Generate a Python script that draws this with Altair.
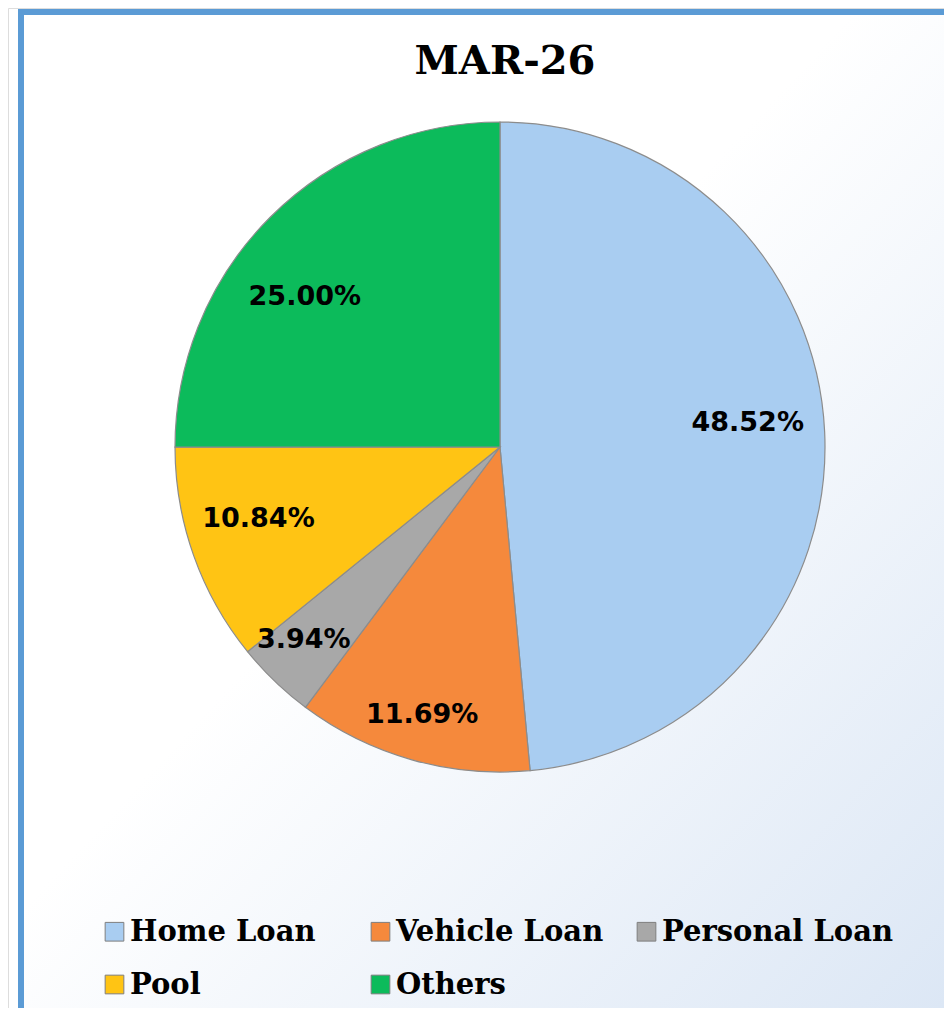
import altair as alt
import pandas as pd

categories = ["Home Loan", "Vehicle Loan", "Personal Loan", "Pool", "Others"]
values = [48.52, 11.69, 3.94, 10.84, 25.00]
colors = ["#A9CDF1", "#F5893C", "#A8A8A8", "#FFC414", "#0CBB5B"]
title_text = "MAR-26"

total = sum(values)
df = pd.DataFrame({
    "category": categories,
    "value": values,
    "idx": list(range(len(categories))),
    "label": [f"{v:.2f}%" for v in values],
})

W, H = 936, 1000
CX, CY = 492, 439
R = 325

color_scale = alt.Scale(domain=categories, range=colors)
theta_scale = alt.Scale(domain=[0, total])

one = pd.DataFrame({"a": [0]})

bg = alt.Chart(one).mark_rect(
    color=alt.LinearGradient(
        gradient="linear", x1=0, y1=0, x2=1, y2=1,
        stops=[alt.GradientStop(offset=0.0, color="#FFFFFF"),
               alt.GradientStop(offset=0.45, color="#FFFFFF"),
               alt.GradientStop(offset=1.0, color="#DCE7F5")]
    )
).encode(x=alt.value(15), x2=alt.value(W), y=alt.value(6), y2=alt.value(H))

border_left = alt.Chart(one).mark_rule(color="#5B9BD5", strokeWidth=6).encode(
    x=alt.value(13), y=alt.value(1), y2=alt.value(H))
border_top = alt.Chart(one).mark_rule(color="#5B9BD5", strokeWidth=6).encode(
    x=alt.value(10), x2=alt.value(W), y=alt.value(4))

pie = alt.Chart(df).mark_arc(radius=R, stroke="#8C8C8C", strokeWidth=1.2).encode(
    theta=alt.Theta("value:Q", stack=True, scale=theta_scale),
    color=alt.Color(
        "category:N", scale=color_scale, sort=categories,
        legend=alt.Legend(
            title=None, orient="none", legendX=92, legendY=909,
            direction="horizontal", columns=3, gridAlign="all",
            symbolType="square", symbolSize=350, symbolStrokeWidth=1,
            symbolStrokeColor="#7F7F7F", symbolOpacity=1,
            labelFont="DejaVu Serif", labelFontWeight="bold",
            labelFontSize=29, labelColor="#000000", labelOffset=1,
            columnPadding=4, rowPadding=23, labelLimit=400,
        ),
    ),
    order=alt.Order("idx:Q"),
    x=alt.value(CX), y=alt.value(CY),
)

base_text = alt.Chart(df).transform_window(
    cum="sum(value)", sort=[alt.SortField("idx")]
).transform_calculate(mid="datum.cum - datum.value / 2")

text_style = dict(font="DejaVu Sans", fontWeight="bold", fontSize=27, color="#000000")


def label_layer(expr, radius, dx, dy):
    return base_text.transform_filter(expr).mark_text(
        radius=radius, dx=dx, dy=dy, **text_style).encode(
        theta=alt.Theta("mid:Q", stack=None, scale=theta_scale),
        text="label:N", x=alt.value(CX), y=alt.value(CY))


txt_big = label_layer("datum.category == 'Home Loan' || datum.category == 'Pool'", 252, -4, -12)
txt_vehicle = label_layer("datum.category == 'Vehicle Loan'", 276, -3, 2)
txt_personal = label_layer("datum.category == 'Personal Loan'", 276, -5, -6)
txt_other = label_layer("datum.category == 'Others'", 252, -17, 28)

title = alt.Chart(pd.DataFrame({"t": [title_text]})).mark_text(
    font="DejaVu Serif", fontWeight="bold", fontSize=40, color="#000000",
    baseline="middle", align="center").encode(
    text="t:N", x=alt.value(497), y=alt.value(54))

chart = alt.layer(bg, border_left, border_top, pie, txt_big, txt_vehicle,
                  txt_personal, txt_other, title).properties(
    width=W, height=H, padding=0, autosize=alt.AutoSizeParams(type="none")
).configure_view(stroke=None).configure(background="#FFFFFF")

chart.save("out.html", embed_options={"renderer": "svg", "actions": False})
